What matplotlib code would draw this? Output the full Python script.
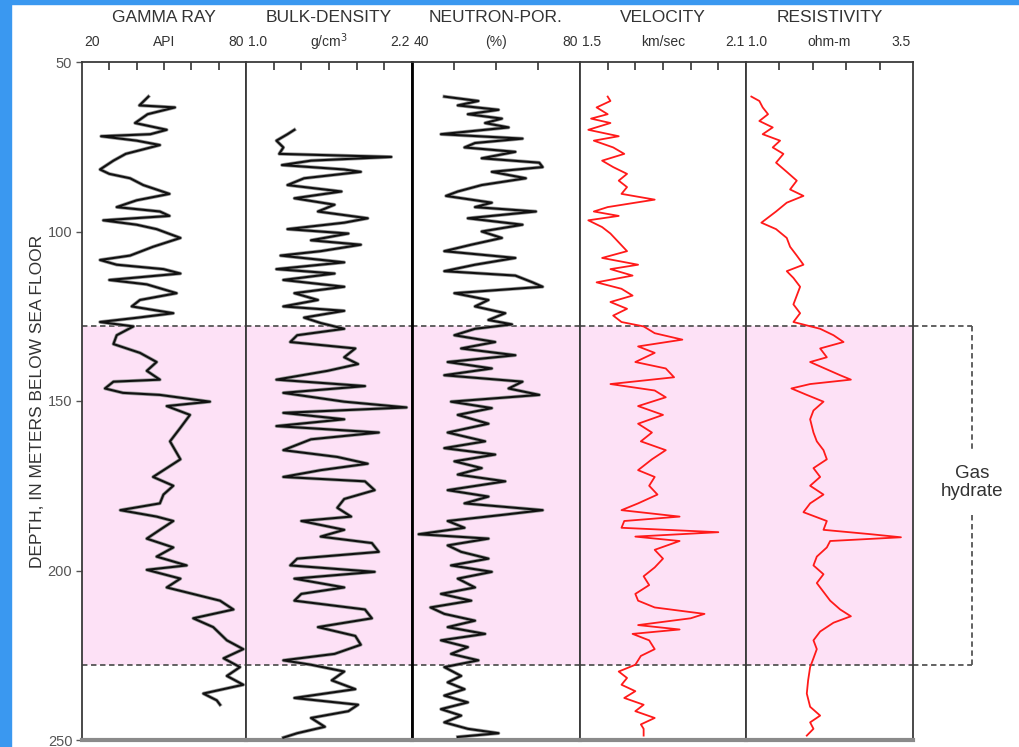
import matplotlib
matplotlib.use("Agg")
import matplotlib.pyplot as plt
from matplotlib.patches import Rectangle
from matplotlib.transforms import blended_transform_factory

plt.rcParams['font.family'] = ['Liberation Sans', 'DejaVu Sans']

# ---- log data (depth in m below sea floor) ----
gr_depth = [60.2, 62.8, 63.4, 65.4, 68.0, 70.0, 71.3, 71.9, 73.2, 74.5, 77.1, 79.1, 81.7, 83.0, 84.3,
            86.3, 88.9, 90.8, 92.8, 94.1, 95.4, 96.7, 98.0, 99.3, 101.9, 104.5, 107.1, 108.4, 109.8,
            111.1, 112.4, 114.3, 115.6, 118.2, 120.2, 122.1, 124.1, 125.4, 126.7, 128.0, 130.6, 133.2,
            135.8, 138.5, 141.1, 143.7, 144.3, 146.3, 147.6, 148.2, 150.2, 151.5, 154.1, 158.0, 161.9,
            167.2, 169.8, 172.4, 175.0, 177.6, 180.2, 182.2, 184.1, 185.4, 188.0, 190.6, 193.2, 195.9,
            198.5, 199.8, 202.4, 205.0, 208.9, 211.5, 214.1, 216.7, 220.6, 223.2, 225.9, 228.5, 231.1,
            233.7, 236.3, 238.3, 239.6]
gr_api = [44.3, 41, 54, 44, 39.4, 51, 45, 27, 40, 48.5, 36, 31.5, 26.6, 30, 37.6, 42.4, 52, 40, 32.7,
          48.5, 52, 27.8, 40, 47.3, 56, 46, 37.6, 26.6, 32.7, 49.8, 56, 30, 43.7, 54.6, 41.2, 38.2, 53.4,
          40.6, 26.6, 38.8, 32.7, 31.5, 41.2, 47.3, 43.7, 48.5, 31.5, 28.4, 35, 48.5, 66.8, 51, 59.5,
          55.9, 52.2, 56, 51, 46, 53.4, 49.8, 48.5, 34, 47.3, 53.4, 48.5, 43.7, 53.4, 47.3, 58.3, 43.7,
          56, 51, 70.5, 75.4, 60.7, 68, 73, 79, 71.8, 77.8, 73, 79, 64.4, 69.3, 70.5]

rho_depth = [70.0, 71.3, 73.2, 75.2, 77.1, 78.0, 79.1, 80.4, 81.7, 82.4, 84.3, 86.3, 88.2, 90.2, 92.1,
             94.1, 96.1, 97.4, 99.3, 100.6, 102.6, 103.9, 105.8, 107.1, 109.1, 111.1, 112.4, 114.3,
             116.3, 118.2, 120.2, 122.1, 123.4, 125.4, 127.0, 128.7, 130.6, 132.6, 134.5, 137.1, 139.1,
             141.1, 143.7, 145.6, 147.6, 150.2, 151.9, 153.5, 155.4, 157.4, 159.3, 161.3, 164.5, 166.5,
             168.5, 170.4, 172.4, 173.7, 176.3, 178.9, 181.5, 184.1, 185.4, 188.0, 190.0, 191.9, 194.5,
             196.5, 198.5, 200.4, 202.4, 205.0, 206.9, 208.9, 211.5, 214.1, 216.7, 219.3, 221.9, 224.6,
             226.5, 227.8, 229.8, 232.4, 235.0, 237.6, 239.6, 241.5, 243.5, 246.1, 248.0, 249.3]
rho_gcc = [1.35, 1.30, 1.22, 1.27, 1.24, 2.05, 1.47, 1.26, 1.71, 1.83, 1.42, 1.30, 1.69, 1.35, 1.64,
           1.52, 1.88, 1.71, 1.30, 1.74, 1.47, 1.83, 1.54, 1.25, 1.71, 1.22, 1.64, 1.27, 1.71, 1.35,
           1.52, 1.27, 1.71, 1.42, 1.54, 1.71, 1.37, 1.32, 1.79, 1.71, 1.81, 1.59, 1.22, 1.86, 1.27,
           1.71, 2.16, 1.27, 1.71, 1.22, 1.96, 1.47, 1.27, 1.66, 1.88, 1.54, 1.27, 1.86, 1.93, 1.71,
           1.66, 1.76, 1.40, 1.71, 1.54, 1.91, 1.96, 1.37, 1.32, 1.93, 1.35, 1.71, 1.40, 1.35, 1.86,
           1.91, 1.52, 1.79, 1.83, 1.64, 1.27, 1.47, 1.71, 1.62, 1.79, 1.35, 1.81, 1.74, 1.47, 1.57,
           1.37, 1.27]

nphi_depth = [60.2, 61.5, 62.8, 64.1, 65.4, 66.7, 68.0, 69.3, 71.3, 72.6, 73.9, 75.2, 76.5, 78.4, 79.7,
              81.0, 82.4, 84.3, 86.3, 88.2, 89.5, 91.5, 92.8, 94.1, 96.1, 98.0, 100.0, 101.9, 103.9,
              105.8, 107.8, 109.8, 111.7, 113.0, 115.0, 116.3, 118.2, 120.2, 122.1, 124.1, 126.1, 127.4,
              128.7, 130.6, 132.6, 134.5, 136.5, 138.5, 140.4, 142.4, 144.3, 146.3, 148.2, 150.2, 152.1,
              154.1, 156.7, 159.3, 161.9, 163.9, 165.8, 167.8, 169.8, 171.7, 173.7, 176.3, 178.2, 180.2,
              182.2, 183.5, 185.4, 187.4, 189.3, 190.6, 192.6, 194.5, 196.5, 198.5, 200.4, 202.4, 205.0,
              206.9, 208.9, 210.9, 212.8, 214.8, 216.7, 218.7, 220.6, 222.6, 224.6, 226.5, 228.5, 231.1,
              233.0, 235.0, 236.9, 238.9, 240.9, 242.8, 244.8, 246.7, 248.0, 249.1]
nphi_pct = [47.7, 55.8, 50.9, 60.6, 53.3, 61.4, 57.4, 63.0, 46.9, 66.3, 55.0, 52.5, 64.6, 56.6, 70.3,
            71.1, 59.0, 67.1, 56.6, 50.9, 48.1, 59.0, 55.0, 69.5, 53.3, 66.3, 56.6, 61.4, 54.1, 47.7,
            64.6, 55.0, 47.7, 64.6, 68.7, 71.1, 50.1, 58.2, 55.0, 62.2, 58.2, 63.8, 55.0, 50.1, 59.8,
            51.7, 64.6, 48.5, 59.0, 47.7, 66.3, 63.0, 70.3, 49.3, 59.0, 50.9, 58.2, 48.5, 57.4, 47.7,
            59.8, 50.1, 56.6, 50.9, 62.2, 48.5, 58.2, 52.5, 71.1, 62.2, 48.5, 52.5, 41.6, 58.2, 48.5,
            51.7, 58.2, 49.3, 59.0, 50.9, 55.0, 46.9, 54.1, 44.4, 47.7, 55.0, 48.5, 57.4, 46.9, 53.3,
            49.3, 55.8, 47.7, 51.7, 48.5, 52.5, 47.7, 53.3, 46.9, 51.7, 47.7, 53.3, 60.6, 50.9]

vel_depth = [60.2, 61.5, 63.4, 65.4, 66.7, 68.0, 70.0, 71.9, 73.2, 75.2, 77.1, 79.1, 81.0, 83.0, 85.0,
             86.9, 88.9, 90.6, 91.5, 92.8, 94.1, 95.4, 96.7, 98.7, 100.6, 103.2, 105.8, 107.8, 109.8,
             111.1, 113.0, 115.0, 116.9, 118.9, 120.8, 122.8, 124.8, 126.7, 128.0, 130.0, 131.9, 133.9,
             135.8, 138.5, 140.4, 143.0, 145.0, 146.9, 148.9, 151.5, 154.1, 156.7, 159.3, 161.9, 164.5,
             167.2, 170.4, 172.4, 175.0, 177.6, 180.2, 182.2, 184.1, 185.4, 187.4, 188.7, 190.0, 191.3,
             193.9, 196.5, 199.1, 201.7, 204.3, 206.9, 208.9, 210.9, 212.8, 214.1, 216.1, 217.4, 218.7,
             220.6, 223.2, 225.2, 227.8, 229.8, 231.7, 233.7, 235.6, 237.6, 239.6, 241.5, 243.5, 245.4,
             246.7, 248.7]
vel_kms = [1.60, 1.61, 1.56, 1.60, 1.54, 1.61, 1.53, 1.64, 1.55, 1.62, 1.66, 1.58, 1.62, 1.67, 1.64,
           1.67, 1.65, 1.77, 1.70, 1.60, 1.55, 1.64, 1.53, 1.58, 1.61, 1.64, 1.67, 1.58, 1.71, 1.61,
           1.69, 1.56, 1.65, 1.69, 1.61, 1.67, 1.62, 1.65, 1.73, 1.77, 1.87, 1.71, 1.77, 1.70, 1.81,
           1.84, 1.61, 1.77, 1.81, 1.71, 1.80, 1.71, 1.76, 1.72, 1.81, 1.76, 1.71, 1.77, 1.75, 1.78,
           1.71, 1.65, 1.86, 1.66, 1.65, 2.00, 1.70, 1.86, 1.77, 1.80, 1.77, 1.73, 1.75, 1.70, 1.71,
           1.77, 1.95, 1.90, 1.71, 1.86, 1.69, 1.75, 1.77, 1.72, 1.70, 1.64, 1.67, 1.65, 1.70, 1.66,
           1.73, 1.70, 1.77, 1.72, 1.73, 1.73]

res_depth = [60.2, 61.5, 63.4, 65.4, 67.4, 69.3, 71.3, 73.2, 75.2, 77.1, 79.7, 82.4, 85.0, 87.6, 89.5,
             91.5, 94.1, 97.4, 99.3, 101.9, 104.5, 107.1, 109.8, 111.7, 113.7, 116.3, 118.9, 121.5,
             124.1, 126.7, 128.7, 130.6, 132.6, 134.5, 137.1, 138.5, 139.8, 142.4, 143.7, 145.0, 146.3,
             148.2, 150.2, 152.8, 155.4, 159.3, 161.9, 164.5, 167.2, 169.8, 172.4, 175.0, 177.6, 180.2,
             182.8, 185.4, 188.0, 189.3, 190.2, 191.3, 193.2, 195.9, 198.5, 201.1, 203.7, 206.3, 208.9,
             211.5, 213.5, 215.4, 218.0, 220.6, 223.2, 225.9, 228.5, 232.4, 236.3, 240.2, 242.8, 244.8,
             246.7, 248.7]
res_ohmm = [1.08, 1.20, 1.25, 1.33, 1.20, 1.40, 1.25, 1.51, 1.40, 1.56, 1.45, 1.61, 1.76, 1.66, 1.86,
            1.61, 1.45, 1.23, 1.45, 1.61, 1.66, 1.76, 1.86, 1.61, 1.71, 1.81, 1.76, 1.71, 1.81, 1.71,
            2.11, 2.31, 2.46, 2.11, 2.21, 1.96, 2.11, 2.41, 2.57, 1.96, 1.68, 1.91, 2.16, 2.01, 1.96,
            2.01, 2.06, 2.16, 2.21, 2.01, 2.11, 1.96, 2.16, 1.96, 1.86, 2.21, 2.16, 2.87, 3.32, 2.26,
            2.21, 2.06, 2.01, 2.16, 2.06, 2.16, 2.26, 2.41, 2.57, 2.31, 2.11, 2.01, 2.06, 2.01, 1.96,
            1.93, 1.91, 1.96, 2.11, 1.96, 2.01, 1.91]

hydrate_top, hydrate_base = 128.0, 227.8

titles = ["GAMMA RAY", "BULK-DENSITY", "NEUTRON-POR.", "VELOCITY", "RESISTIVITY"]
units = ["API", "g/cm$^3$", "(%)", "km/sec", "ohm-m"]
x_ranges = [(20, 80), (1.0, 2.2), (40, 80), (1.5, 2.1), (1.0, 3.5)]
x_end_labels = [("20", "80"), ("1.0", "2.2"), ("40", "80"), ("1.5", "2.1"), ("1.0", "3.5")]
inner_ticks = [[30, 40, 50, 60, 70], [1.2, 1.4, 1.6, 1.8, 2.0], [50, 60, 70],
               [1.6, 1.7, 1.8, 1.9, 2.0], [1.5, 2.0, 2.5, 3.0]]
curves = [(gr_api, gr_depth, 'k'), (rho_gcc, rho_depth, 'k'), (nphi_pct, nphi_depth, 'k'),
          (vel_kms, vel_depth, 'r'), (res_ohmm, res_depth, 'r')]

W, H = 1019, 747
fig = plt.figure(figsize=(W / 100, H / 100), dpi=100)

# blue frame
fig.patches.append(Rectangle((0, 0), 11 / W, 1, transform=fig.transFigure, color='#3a98f0', zorder=0))
fig.patches.append(Rectangle((0, 1 - 4 / H), 1, 4 / H, transform=fig.transFigure, color='#3a98f0', zorder=0))

edges = [82, 246, 412, 580, 746, 913]
top_px, bot_px = 62, 740
axes = []
for i in range(5):
    ax = fig.add_axes([edges[i] / W, 1 - bot_px / H, (edges[i + 1] - edges[i]) / W, (bot_px - top_px) / H])
    axes.append(ax)
    ax.set_xlim(*x_ranges[i])
    ax.set_ylim(250, 50)
    ax.axhspan(hydrate_top, hydrate_base, color='#fde1f6', lw=0, zorder=0)
    for d in (hydrate_top, hydrate_base):
        ax.axhline(d, color='#555555', lw=1.3, ls=(0, (3, 2)), zorder=1)

    xs, ys, c = curves[i]
    if c == 'k':
        # grey shadow trace under the black log trace
        ax.plot(xs, ys, color='#9a9a9a', lw=2.6, zorder=2)
        ax.plot(xs, ys, color='#111111', lw=1.5, zorder=3)
    else:
        ax.plot(xs, ys, color='#ff1a1a', lw=1.3, zorder=3)

    ax.xaxis.tick_top()
    ax.set_xticks(inner_ticks[i])
    ax.tick_params(axis='x', direction='in', length=6, width=1.2, color='#333333', labeltop=False)
    for s in ('left', 'right', 'top'):
        ax.spines[s].set_color('#3a3a3a')
        ax.spines[s].set_linewidth(1.3)
    ax.spines['bottom'].set_color('#8a8a8a')
    ax.spines['bottom'].set_linewidth(3)
    if i == 2:
        ax.spines['left'].set_linewidth(2)
        ax.spines['left'].set_color('black')

    cx = (edges[i] + edges[i + 1]) / 2 / W
    fig.text(cx, 1 - 18 / H, titles[i], ha='center', va='center', fontsize=12.5, color='#333333')
    fig.text(cx, 1 - 42 / H, units[i], ha='center', va='center', fontsize=10, color='#333333')
    fig.text((edges[i] + 2) / W, 1 - 42 / H, x_end_labels[i][0], ha='left', va='center', fontsize=10, color='#333333')
    fig.text((edges[i + 1] - 2) / W, 1 - 42 / H, x_end_labels[i][1], ha='right', va='center', fontsize=10, color='#333333')

    if i == 0:
        ax.set_yticks([50, 100, 150, 200, 250])
        ax.tick_params(axis='y', direction='out', length=4, width=1, color='#555555',
                       labelsize=10.5, labelcolor='#555555', pad=3)
    else:
        ax.set_yticks([])

axes[0].set_ylabel("DEPTH, IN METERS BELOW SEA FLOOR", fontsize=12.5, color='#333333', labelpad=2)

# gas hydrate bracket to the right of the resistivity track
ax = axes[4]
tr = blended_transform_factory(ax.transAxes, ax.transData)
bx = (972 - 746) / (913 - 746)
dash = dict(color='#555555', lw=1.3, ls=(0, (3, 2)), clip_on=False, transform=tr)
ax.plot([1, bx], [hydrate_top, hydrate_top], **dash)
ax.plot([1, bx], [hydrate_base, hydrate_base], **dash)
ax.plot([bx, bx], [hydrate_top, 164.5], **dash)
ax.plot([bx, bx], [183.5, hydrate_base], **dash)
ax.text(bx, 174.0, "Gas\nhydrate", transform=tr, ha='center', va='center',
        fontsize=13.5, color='#333333', linespacing=1.1)

fig.savefig("out.png", dpi=100)
